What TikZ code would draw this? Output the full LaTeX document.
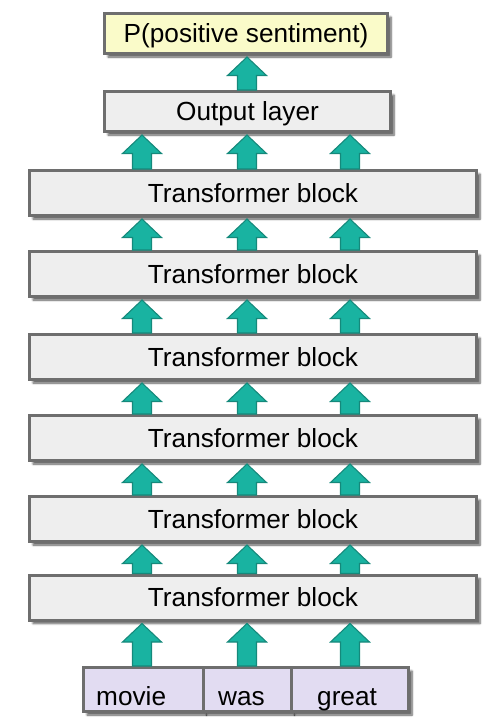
\documentclass[tikz,border=0pt]{standalone}
\usepackage{fontspec}
\setmainfont{Liberation Sans}
\usetikzlibrary{calc,shadows.blur}
\definecolor{boxgray}{HTML}{EEEEEE}
\definecolor{bordergray}{HTML}{6E6E6E}
\definecolor{topyellow}{HTML}{FAFBC9}
\definecolor{inlav}{HTML}{E2DCF2}
\definecolor{teal1}{HTML}{19B3A1}
\definecolor{teal2}{HTML}{15897B}
\tikzset{
  base/.style={draw=bordergray, line width=3pt, inner sep=0pt,
    text height=0.716em, text depth=0pt,
    blur shadow={shadow xshift=3.5pt, shadow yshift=-3.5pt, shadow blur steps=6,
      shadow blur radius=2pt, shadow opacity=65}},
  blockbox/.style={base, fill=boxgray, minimum width=447pt, minimum height=45pt},
  outbox/.style={base, fill=boxgray, minimum width=286pt, minimum height=40pt},
  probbox/.style={base, fill=topyellow, minimum width=283pt, minimum height=40pt},
  inbox/.style={base, fill=inlav, minimum height=44pt},
  word/.style={inner sep=0pt, anchor=base west},
  arr/.style={fill=teal1, draw=teal2, line width=1.1pt, line join=miter},
}
\newcommand\blkarr[3]{% #1 column coordinate, #2 lower node, #3 upper node
  \draw[arr] let \p1=($(#1|-#3.south)+(0,2)$), \p2=(#1|-#2.north) in
    (\x1-9.5pt,\y2) -- (\x1-9.5pt,\y1-18.5pt) -- (\x1-19.5pt,\y1-18.5pt) -- (\p1)
    -- (\x1+19.5pt,\y1-18.5pt) -- (\x1+9.5pt,\y1-18.5pt) -- (\x1+9.5pt,\y2) -- cycle;
}
\begin{document}
\begin{tikzpicture}[x=1pt,y=-1pt]
\fontsize{26.2}{30}\selectfont
\useasboundingbox (0,0) rectangle (498,724);
\coordinate (c1) at (142,0);
\coordinate (c2) at (247,0);
\coordinate (c3) at (350,0);
\node[probbox] (P) at (246,33.5) {P(positive sentiment)};
\node[outbox] (O) at (247.5,111.5) {Output layer};
\node[blockbox] (T6) at (253,193) {Transformer block};
\node[blockbox] (T5) at (253,274) {Transformer block};
\node[blockbox] (T4) at (253,357) {Transformer block};
\node[blockbox] (T3) at (253,438) {Transformer block};
\node[blockbox] (T2) at (253,519) {Transformer block};
\node[blockbox] (T1) at (253,597.5) {Transformer block};
\node[inbox, minimum width=119.5pt] (I1) at (143.25,689.5) {};
\node[inbox, minimum width=88pt] (I2) at (247,689.5) {};
\node[inbox, minimum width=117.5pt] (I3) at (349.75,689.5) {};
\node[word] (w1) at (96,705) {movie};
\node[word] (w2) at (218,705) {was};
\node[word] (w3) at (317,705) {great};
% arrows
\blkarr{c2}{O}{P}
\foreach \c in {c1,c2,c3}{
  \blkarr{\c}{T6}{O}
  \blkarr{\c}{T5}{T6}
  \blkarr{\c}{T4}{T5}
  \blkarr{\c}{T3}{T4}
  \blkarr{\c}{T2}{T3}
  \blkarr{\c}{T1}{T2}
}
\blkarr{c1}{I1}{T1}
\blkarr{c2}{I2}{T1}
\blkarr{c3}{I3}{T1}
\end{tikzpicture}
\end{document}
